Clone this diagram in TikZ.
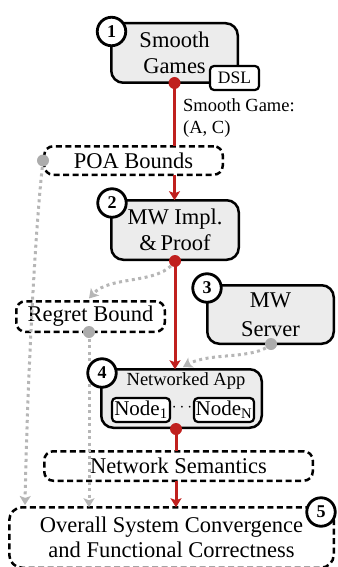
\documentclass[tikz,border=0pt]{standalone}
\usepackage{fontspec}
\setmainfont{Liberation Serif}
\usetikzlibrary{arrows.meta}
\definecolor{myred}{RGB}{192,32,30}
\definecolor{mygray}{RGB}{182,182,182}
\definecolor{dotgray}{RGB}{172,172,172}
\definecolor{boxfill}{RGB}{236,236,236}
\begin{document}
\begin{tikzpicture}[x=1pt,y=-1pt,
 solidbox/.style={draw=black, line width=2.5pt, fill=boxfill, rounded corners=12pt, inner sep=0pt, outer sep=0pt, align=center, font=\fontsize{22.5}{26.5}\selectfont},
 dashbox/.style={draw=black, line width=2.5pt, dash pattern=on 6pt off 3.5pt, fill=white, rounded corners=9pt, inner sep=0pt, outer sep=0pt, align=center, font=\fontsize{22.5}{26}\selectfont},
 numcircle/.style={circle, draw=black, fill=white, line width=2.8pt, minimum size=28.5pt, inner sep=0pt, font=\fontsize{18}{18}\selectfont\bfseries},
 smallbox/.style={draw=black, line width=2.2pt, fill=white, rounded corners=4pt, inner sep=0pt, outer sep=0pt},
 redline/.style={draw=myred, line width=3pt},
 redarrow/.style={redline, -{Stealth[length=9pt,width=11pt,inset=2pt]}},
 grayline/.style={draw=mygray, line width=3pt, dash pattern=on 3pt off 3.5pt},
 grayarrow/.style={grayline, -{Stealth[length=9pt,width=11pt,inset=2pt]}},
 reddot/.style={circle, fill=myred, minimum size=12pt, inner sep=0pt},
 graydot/.style={circle, fill=dotgray, minimum size=12pt, inner sep=0pt},
]
\useasboundingbox (0,0) rectangle (337,567);

% boxes
\node[solidbox, minimum width=126.5pt, minimum height=59.5pt] (b1) at (174.5,53) {Smooth\\Games};
\node[smallbox, minimum width=49pt, minimum height=24pt, font=\fontsize{17.5}{18}\selectfont] (dsl) at (234.5,78) {DSL};
\node[dashbox, minimum width=178.5pt, minimum height=28.5pt] (poa) at (133.5,160.5) {POA Bounds};
\node[solidbox, minimum width=127.5pt, minimum height=59.5pt] (b2) at (175,230) {MW Impl.\\\&\,Proof};
\node[dashbox, minimum width=148.5pt, minimum height=30.5pt] (regret) at (90.5,316.5) {Regret Bound};
\node[solidbox, minimum width=126.5pt, minimum height=58.5pt, font=\fontsize{22.5}{29}\selectfont] (b3) at (270.5,314.5) {MW\\Server};
\node[solidbox, minimum width=160.5pt, minimum height=58.5pt] (b4) at (181.5,398.5) {};
\node[anchor=base, inner sep=0pt, font=\fontsize{18.5}{20}\selectfont] (netlabel) at (186,385) {Networked App};
\node[smallbox, minimum width=58pt, minimum height=24pt, font=\fontsize{21}{22}\selectfont] (n1) at (141,410) {Node\textsubscript{1}};
\node[inner sep=0pt, font=\fontsize{16}{16}\selectfont] (ndots) at (182,408) {$\cdots$};
\node[smallbox, minimum width=60pt, minimum height=24pt, font=\fontsize{21}{22}\selectfont] (nN) at (224,410) {Node\textsubscript{N}};
\node[dashbox, minimum width=268.5pt, minimum height=29.5pt] (netsem) at (178.5,466) {Network Semantics};
\node[dashbox, rounded corners=13pt, minimum width=324.5pt, minimum height=60.5pt, font=\fontsize{22.5}{25}\selectfont] (overall) at (171.5,537.5) {Overall System Convergence\\and Functional Correctness};

% label
\node[anchor=base west, inner sep=0pt, font=\fontsize{18.5}{20}\selectfont] (lab1) at (183,111) {Smooth Game:};
\node[anchor=base west, inner sep=0pt, font=\fontsize{18.5}{20}\selectfont] (lab2) at (183,133) {(A, C)};

% dot positions
\coordinate (d1) at (174.5,83);
\coordinate (d2) at (175,261);
\coordinate (d4) at (176,429);
\coordinate (pd) at (43,160.5);
\coordinate (rd) at (89,332);
\coordinate (sd) at (271,344);
\coordinate (g2end) at (89,298.5);
\coordinate (g3end) at (183,367);
\coordinate (gpend) at (25,505);

% red connectors
\draw[redline] (d1) -- (d1 |- poa.north);
\draw[redarrow] (poa.south -| d1) -- (b2.north -| d1);
\draw[redarrow] (d2) -- (b2.south |- b4.north);
\draw[redline] (d4) -- (d4 |- netsem.north);
\draw[redarrow] (netsem.south -| d4) -- (d4 |- overall.north);

% gray connectors
\draw[grayarrow] (pd) .. controls (34,240) and (27,400) .. (gpend);
\draw[grayarrow] (rd) -- (rd |- overall.north);
\draw[grayarrow] (d2) .. controls (160,285) and (110,275) .. (g2end);
\draw[grayarrow] (sd) .. controls (255,360) and (210,352) .. (g3end);

% dots
\node[reddot] (rdot1) at (d1) {};
\node[reddot] (rdot2) at (d2) {};
\node[reddot] (rdot4) at (d4) {};
\node[graydot] (gdotp) at (pd) {};
\node[graydot] (gdotr) at (rd) {};
\node[graydot] (gdots) at (sd) {};

% number circles
\node[numcircle] (c1) at (111.5,31.5) {1};
\node[numcircle] (c2) at (112,203) {2};
\node[numcircle] (c3) at (207,288) {3};
\node[numcircle] (c4) at (102,373) {4};
\node[numcircle] (c5) at (321,512) {5};
\end{tikzpicture}
\end{document}
